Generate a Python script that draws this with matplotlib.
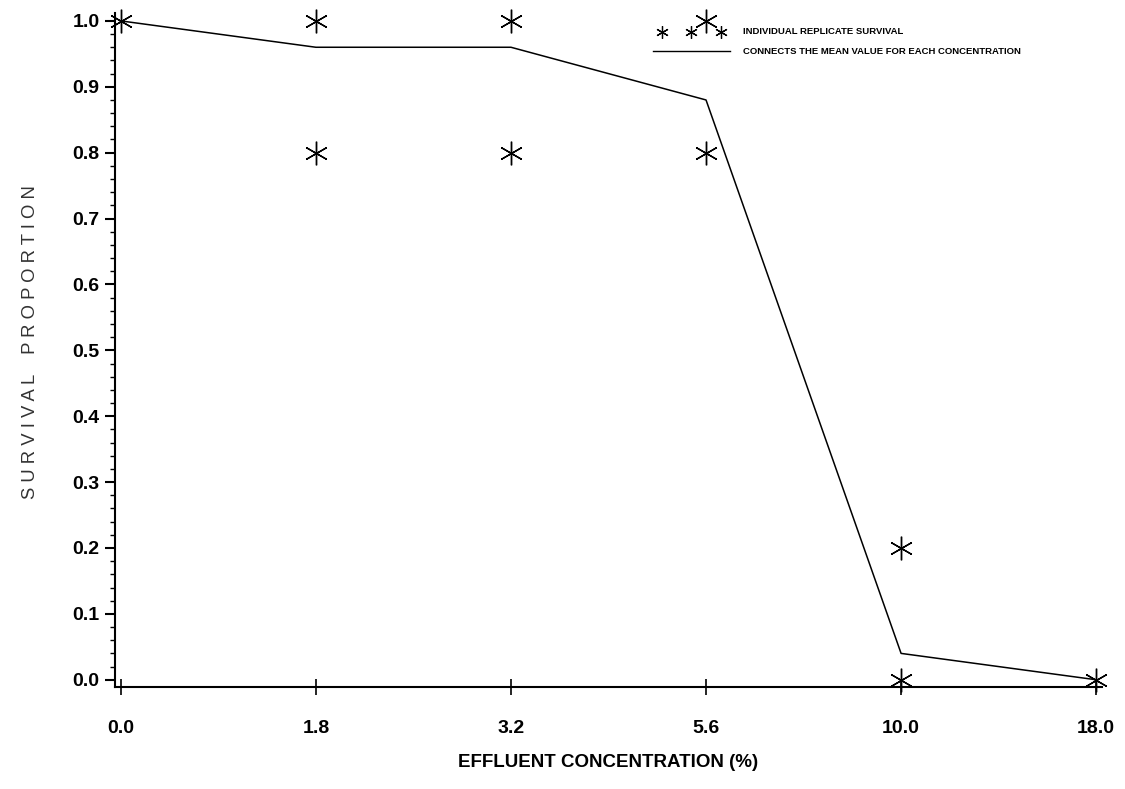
import matplotlib.pyplot as plt
from matplotlib.lines import Line2D
from matplotlib.ticker import MultipleLocator

plt.rcParams['font.family'] = ['Liberation Sans', 'DejaVu Sans']

concentrations = ["0.0", "1.8", "3.2", "5.6", "10.0", "18.0"]
mean_survival = [1.0, 0.96, 0.96, 0.88, 0.04, 0.0]
rep_x = ["0.0", "1.8", "1.8", "3.2", "3.2", "5.6", "5.6", "10.0", "10.0", "18.0"]
rep_y = [1.0, 1.0, 0.8, 1.0, 0.8, 1.0, 0.8, 0.2, 0.0, 0.0]

W, H = 1125, 789
fig = plt.figure(figsize=(11.25, 7.89), dpi=100)
ax = fig.add_axes([115 / W, 1 - 687 / H, (1102 - 115) / W, (687 - 13) / H])

pos = {c: i for i, c in enumerate(concentrations)}
star = (6, 2, 0)

ax.plot(range(len(concentrations)), mean_survival, color="black", lw=1.1, clip_on=False)
ax.plot([pos[c] for c in rep_x], rep_y, linestyle="none", marker=star,
        markersize=17, markeredgewidth=1.0, color="black", clip_on=False)

ax.set_xlim(-0.03, 5.03)
ax.set_ylim(-0.011, 1.012)
ax.set_xticks(range(len(concentrations)))
ax.set_xticklabels(concentrations)
ax.yaxis.set_major_locator(MultipleLocator(0.1))
ax.yaxis.set_minor_locator(MultipleLocator(0.02))
ax.set_yticklabels([f"{v:.1f}" for v in ax.get_yticks()])
ax.set_ylim(-0.011, 1.012)

for s in ["top", "right"]:
    ax.spines[s].set_visible(False)
for s in ["left", "bottom"]:
    ax.spines[s].set_linewidth(1.5)

ax.tick_params(axis="y", which="major", direction="out", length=7, width=1.5, pad=4,
               labelsize=14)
ax.tick_params(axis="y", which="minor", direction="out", length=3.5, width=1.0)
ax.tick_params(axis="x", which="major", direction="inout", length=12, width=1.2, pad=18,
               labelsize=14)
for lab in ax.get_xticklabels() + ax.get_yticklabels():
    lab.set_fontweight("bold")

ax.set_xlabel("EFFLUENT CONCENTRATION (%)", fontsize=13.5, fontweight="bold", labelpad=12)
ax.set_ylabel("S U R V I V A L    P R O P O R T I O N", fontsize=13.3, color="#333333")
ax.yaxis.set_label_coords(-0.077, 0.512)

# legend drawn by hand, as in the original
for px in [662, 691, 721]:
    fig.add_artist(Line2D([px / W], [1 - 32 / H], marker=star, markersize=9,
                          markeredgewidth=0.9, color="black", linestyle="none"))
fig.add_artist(Line2D([653 / W, 730 / W], [1 - 50.5 / H, 1 - 50.5 / H],
                      color="black", lw=1.0))
fig.text(743 / W, 1 - 32 / H, "INDIVIDUAL REPLICATE SURVIVAL", fontsize=6.8,
         fontweight="bold", va="center", ha="left")
fig.text(743 / W, 1 - 51 / H, "CONNECTS THE MEAN VALUE FOR EACH CONCENTRATION",
         fontsize=6.8, fontweight="bold", va="center", ha="left")

fig.savefig("out.png", dpi=100)
